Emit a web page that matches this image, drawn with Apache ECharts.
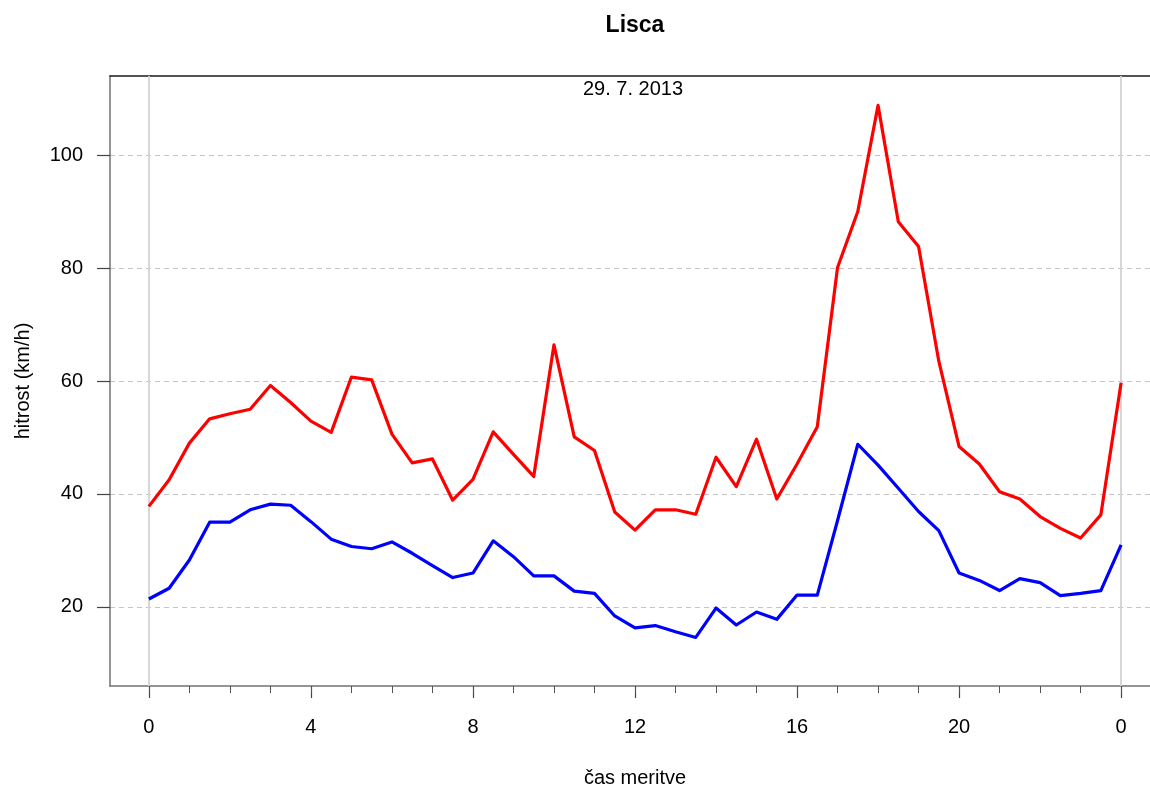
<!DOCTYPE html>
<html>
<head>
<meta charset="utf-8">
<script src="https://cdn.jsdelivr.net/npm/echarts@6/dist/echarts.min.js"></script>
<style>html,body{margin:0;padding:0;background:#fff}#c{width:1150px;height:787px}</style>
</head>
<body>
<div id="c"></div>
<script>
const hours = [0,0.5,1,1.5,2,2.5,3,3.5,4,4.5,5,5.5,6,6.5,7,7.5,8,8.5,9,9.5,10,10.5,11,11.5,12,12.5,13,13.5,14,14.5,15,15.5,16,16.5,17,17.5,18,18.5,19,19.5,20,20.5,21,21.5,22,22.5,23,23.5,24];
const maxSpeed = [37.8,42.5,49.0,53.3,54.2,55.0,59.2,56.2,52.9,50.9,60.7,60.2,50.6,45.5,46.2,38.9,42.6,51.0,47.0,43.1,66.4,50.1,47.7,36.8,33.6,37.2,37.2,36.4,46.5,41.3,49.7,39.1,45.3,51.9,80.1,90.0,108.8,88.2,83.8,63.5,48.4,45.3,40.4,39.1,36.0,33.9,32.2,36.3,59.7];
const avgSpeed = [21.4,23.3,28.3,35.0,35.0,37.2,38.2,38.0,35.1,32.0,30.7,30.3,31.5,29.5,27.3,25.2,26.0,31.7,28.9,25.5,25.5,22.8,22.4,18.4,16.3,16.7,15.6,14.6,19.8,16.8,19.1,17.8,22.1,22.1,35.3,48.8,45.1,41.0,36.9,33.5,26.0,24.7,22.9,25.0,24.3,22.0,22.4,22.9,31.0];
const xMajorTicks = [0,4,8,12,16,20,24];
const xMinorTicks = [0,1,2,3,4,5,6,7,8,9,10,11,12,13,14,15,16,17,18,19,20,21,22,23,24];
const yTicks = [20,40,60,80,100];
const titleText = 'Lisca';
const subTitleText = '29. 7. 2013';
const xName = 'čas meritve';
const yName = 'hitrost (km/h)';

const FONT = '"Liberation Sans", Arial, sans-serif';
const chart = echarts.init(document.getElementById('c'), null, {renderer: 'canvas'});
const xMin = -0.96, xMax = 24.96;
const option = {
  backgroundColor: '#ffffff',
  animation: false,
  graphic: [
    {type: 'text', x: 635, y: 14, style: {text: titleText, font: 'bold 23px ' + FONT, fill: '#000', align: 'center', textAlign: 'center'}, z: 100},
    {type: 'text', x: 633, y: 79, style: {text: subTitleText, font: '20px ' + FONT, fill: '#000', align: 'center', textAlign: 'center'}, z: 100}
  ],
  grid: {left: 110, right: -10, top: 76, bottom: 101, containLabel: false, outerBoundsMode: 'none'},
  xAxis: [
    {
      type: 'value', min: xMin, max: xMax, position: 'bottom',
      name: xName, nameLocation: 'middle', nameGap: 82,
      nameTextStyle: {fontFamily: FONT, fontSize: 20, color: '#000'},
      axisLine: {show: true, onZero: false, lineStyle: {color: '#707070', width: 1.5}},
      axisTick: {show: true, customValues: xMajorTicks, length: 12, lineStyle: {color: '#444', width: 1.2}},
      axisLabel: {show: true, customValues: xMajorTicks, margin: 31, fontFamily: FONT, fontSize: 20, color: '#000',
        formatter: v => (v === 24 ? '0' : String(v))},
      splitLine: {show: false}
    },
    {
      type: 'value', min: xMin, max: xMax, position: 'bottom',
      axisLine: {show: false},
      axisTick: {show: true, customValues: xMinorTicks, length: 7, lineStyle: {color: '#555', width: 1}},
      axisLabel: {show: false},
      splitLine: {show: false}
    },
    {
      type: 'value', min: xMin, max: xMax, position: 'top',
      axisLine: {show: true, onZero: false, lineStyle: {color: '#1a1a1a', width: 1.5}},
      axisTick: {show: false}, axisLabel: {show: false}, splitLine: {show: false}
    }
  ],
  yAxis: {
    type: 'value', min: 6, max: 114,
    name: yName, nameLocation: 'middle', nameGap: 77, nameRotate: 90,
    nameTextStyle: {fontFamily: FONT, fontSize: 20, color: '#000'},
    axisLine: {show: true, onZero: false, lineStyle: {color: '#707070', width: 1.5}},
    axisTick: {show: true, customValues: yTicks, length: 13, lineStyle: {color: '#444', width: 1.2}},
    axisLabel: {show: true, customValues: yTicks, margin: 27, fontFamily: FONT, fontSize: 20, color: '#000'},
    splitLine: {show: true, lineStyle: {color: '#c4c4c4', width: 1.2, type: [5, 4]}}
  },
  series: [
    {
      type: 'line', xAxisIndex: 0, data: hours.map((h, i) => [h, maxSpeed[i]]),
      showSymbol: false, symbol: 'none', z: 5,
      lineStyle: {color: '#ff0000', width: 3.2, join: 'round'},
      markLine: {
        silent: true, symbol: 'none', label: {show: false}, z: 1,
        lineStyle: {color: '#d3d3d3', width: 1.8, type: 'solid'},
        data: [{xAxis: 0}, {xAxis: 24}]
      }
    },
    {
      type: 'line', xAxisIndex: 0, data: hours.map((h, i) => [h, avgSpeed[i]]),
      showSymbol: false, symbol: 'none', z: 5,
      lineStyle: {color: '#0000ff', width: 3.2, join: 'round'}
    }
  ]
};
chart.setOption(option);
</script>
</body>
</html>
